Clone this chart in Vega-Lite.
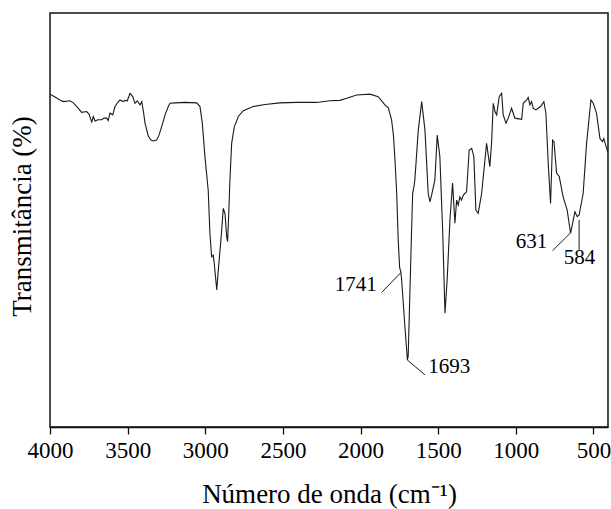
{
  "$schema": "https://vega.github.io/schema/vega-lite/v6.json",
  "width": 558,
  "height": 414,
  "autosize": {"type": "none"},
  "padding": {"left": 50, "top": 13, "right": 3, "bottom": 82},
  "background": "white",
  "config": {
    "view": {"stroke": "#111", "strokeWidth": 1.5},
    "font": "Liberation Serif",
    "axis": {"labelFont": "Liberation Serif", "titleFont": "Liberation Serif"},
    "text": {"font": "Liberation Serif"}
  },
  "datasets": {
    "spectrum": [
      {"w": 4000, "t": 80.4}, {"w": 3968, "t": 79.7}, {"w": 3936, "t": 79.0}, {"w": 3914, "t": 78.6},
      {"w": 3871, "t": 78.8}, {"w": 3850, "t": 78.3}, {"w": 3820, "t": 77.1}, {"w": 3796, "t": 76.0},
      {"w": 3764, "t": 76.2}, {"w": 3749, "t": 75.6}, {"w": 3731, "t": 73.7}, {"w": 3721, "t": 75.0},
      {"w": 3710, "t": 73.9}, {"w": 3691, "t": 74.2}, {"w": 3667, "t": 74.2}, {"w": 3652, "t": 74.6},
      {"w": 3635, "t": 74.6}, {"w": 3625, "t": 74.0}, {"w": 3614, "t": 75.8}, {"w": 3596, "t": 75.4},
      {"w": 3581, "t": 77.4}, {"w": 3562, "t": 78.5}, {"w": 3549, "t": 79.0}, {"w": 3528, "t": 78.6},
      {"w": 3517, "t": 78.9}, {"w": 3502, "t": 78.8}, {"w": 3485, "t": 80.6}, {"w": 3467, "t": 79.8},
      {"w": 3453, "t": 78.2}, {"w": 3438, "t": 78.8}, {"w": 3420, "t": 77.8}, {"w": 3409, "t": 78.6},
      {"w": 3398, "t": 76.1}, {"w": 3388, "t": 73.4}, {"w": 3367, "t": 70.3}, {"w": 3350, "t": 69.3},
      {"w": 3335, "t": 69.1}, {"w": 3313, "t": 69.3}, {"w": 3298, "t": 70.5}, {"w": 3281, "t": 72.5},
      {"w": 3259, "t": 75.4}, {"w": 3238, "t": 77.4}, {"w": 3227, "t": 78.2}, {"w": 3195, "t": 78.3},
      {"w": 3131, "t": 78.4}, {"w": 3055, "t": 78.3}, {"w": 3034, "t": 77.4}, {"w": 3019, "t": 73.4},
      {"w": 3002, "t": 65.3}, {"w": 2981, "t": 57.2}, {"w": 2970, "t": 46.8}, {"w": 2959, "t": 41.1},
      {"w": 2948, "t": 41.5}, {"w": 2942, "t": 39.5}, {"w": 2926, "t": 33.1}, {"w": 2916, "t": 37.9},
      {"w": 2899, "t": 45.2}, {"w": 2884, "t": 52.8}, {"w": 2873, "t": 51.6}, {"w": 2862, "t": 46.0},
      {"w": 2856, "t": 44.8}, {"w": 2847, "t": 53.2}, {"w": 2841, "t": 59.7}, {"w": 2830, "t": 68.5},
      {"w": 2813, "t": 72.5}, {"w": 2787, "t": 75.0}, {"w": 2755, "t": 76.4}, {"w": 2691, "t": 77.4},
      {"w": 2615, "t": 77.9}, {"w": 2519, "t": 78.3}, {"w": 2411, "t": 78.4}, {"w": 2283, "t": 78.4},
      {"w": 2197, "t": 78.8}, {"w": 2132, "t": 78.9}, {"w": 2089, "t": 79.4}, {"w": 2025, "t": 80.2},
      {"w": 1939, "t": 80.4}, {"w": 1886, "t": 79.8}, {"w": 1843, "t": 77.8}, {"w": 1821, "t": 77.1},
      {"w": 1800, "t": 74.2}, {"w": 1788, "t": 70.5}, {"w": 1778, "t": 64.5}, {"w": 1767, "t": 56.5},
      {"w": 1757, "t": 45.0}, {"w": 1748, "t": 38.5}, {"w": 1741, "t": 37.6}, {"w": 1735, "t": 35.5},
      {"w": 1717, "t": 25.8}, {"w": 1698, "t": 16.2}, {"w": 1693, "t": 17.1}, {"w": 1682, "t": 32.4},
      {"w": 1671, "t": 47.6}, {"w": 1664, "t": 56.5}, {"w": 1656, "t": 58.0}, {"w": 1650, "t": 59.7},
      {"w": 1628, "t": 71.7}, {"w": 1606, "t": 78.6}, {"w": 1585, "t": 71.7}, {"w": 1564, "t": 56.4},
      {"w": 1553, "t": 54.4}, {"w": 1542, "t": 56.0}, {"w": 1521, "t": 59.7}, {"w": 1506, "t": 70.5},
      {"w": 1489, "t": 65.3}, {"w": 1471, "t": 47.6}, {"w": 1456, "t": 27.5}, {"w": 1442, "t": 35.5},
      {"w": 1424, "t": 50.0}, {"w": 1407, "t": 58.9}, {"w": 1392, "t": 49.2}, {"w": 1381, "t": 54.8},
      {"w": 1371, "t": 53.6}, {"w": 1360, "t": 55.6}, {"w": 1349, "t": 54.8}, {"w": 1338, "t": 56.0},
      {"w": 1328, "t": 56.4}, {"w": 1317, "t": 56.8}, {"w": 1300, "t": 66.9}, {"w": 1284, "t": 67.3},
      {"w": 1270, "t": 65.3}, {"w": 1257, "t": 52.4}, {"w": 1242, "t": 51.6}, {"w": 1220, "t": 56.4},
      {"w": 1188, "t": 68.5}, {"w": 1167, "t": 62.9}, {"w": 1156, "t": 68.5}, {"w": 1145, "t": 78.2},
      {"w": 1134, "t": 76.2}, {"w": 1123, "t": 75.4}, {"w": 1107, "t": 79.8}, {"w": 1091, "t": 80.6},
      {"w": 1081, "t": 75.4}, {"w": 1063, "t": 73.4}, {"w": 1049, "t": 74.6}, {"w": 1027, "t": 77.0},
      {"w": 1006, "t": 74.6}, {"w": 962, "t": 74.3}, {"w": 952, "t": 78.2}, {"w": 930, "t": 79.0},
      {"w": 920, "t": 79.6}, {"w": 909, "t": 77.8}, {"w": 898, "t": 78.6}, {"w": 888, "t": 77.0},
      {"w": 870, "t": 76.6}, {"w": 856, "t": 77.0}, {"w": 840, "t": 77.4}, {"w": 819, "t": 78.6},
      {"w": 806, "t": 75.8}, {"w": 791, "t": 63.7}, {"w": 776, "t": 54.0}, {"w": 763, "t": 69.3},
      {"w": 754, "t": 68.9}, {"w": 737, "t": 61.3}, {"w": 720, "t": 60.5}, {"w": 695, "t": 55.6},
      {"w": 669, "t": 52.4}, {"w": 647, "t": 46.8}, {"w": 634, "t": 49.2}, {"w": 619, "t": 52.0},
      {"w": 604, "t": 50.8}, {"w": 592, "t": 51.2}, {"w": 566, "t": 56.4}, {"w": 544, "t": 68.5},
      {"w": 516, "t": 79.0}, {"w": 501, "t": 78.2}, {"w": 480, "t": 75.8}, {"w": 458, "t": 69.7},
      {"w": 441, "t": 68.9}, {"w": 433, "t": 69.7}, {"w": 415, "t": 67.3}, {"w": 407, "t": 66.4}
    ],
    "leaders": [
      {"w1": 1864, "t1": 32.5, "w2": 1740, "t2": 37.3},
      {"w1": 1699, "t1": 16.2, "w2": 1585, "t2": 12.6},
      {"w1": 763, "t1": 42.6, "w2": 647, "t2": 46.9},
      {"w1": 592, "t1": 50.0, "w2": 592, "t2": 42.8}
    ],
    "labels": [
      {"w": 2031, "t": 34.4, "label": "1741"},
      {"w": 1429, "t": 14.6, "label": "1693"},
      {"w": 898, "t": 44.6, "label": "631"},
      {"w": 590, "t": 40.8, "label": "584"}
    ]
  },
  "layer": [
    {
      "data": {"name": "spectrum"},
      "mark": {"type": "line", "color": "#1a1a1a", "strokeWidth": 1.1, "clip": true},
      "encoding": {
        "x": {
          "field": "w", "type": "quantitative",
          "scale": {"domain": [4000, 406], "nice": false, "zero": false},
          "axis": {
            "title": "Número de onda (cm⁻¹)",
            "values": [4000, 3750, 3500, 3250, 3000, 2750, 2500, 2250, 2000, 1750, 1500, 1250, 1000, 750, 500],
            "format": "d",
            "labelExpr": "datum.value % 500 === 0 ? datum.label : ''",
            "labelOverlap": false,
            "labelFlush": false,
            "labelFont": "Liberation Serif",
            "labelFontSize": 23,
            "labelColor": "#000",
            "labelBaseline": "alphabetic",
            "labelPadding": 23,
            "tickSize": {"condition": {"test": "datum.value % 500 === 0", "value": 7}, "value": 4},
            "tickColor": "#111",
            "tickWidth": 1.3,
            "domainColor": "#111",
            "domainWidth": 1.5,
            "grid": false,
            "titleFont": "Liberation Serif",
            "titleFontSize": 27,
            "titleFontWeight": "normal",
            "titleColor": "#000",
            "titleBaseline": "alphabetic",
            "titleY": 75,
            "encode": {
              "labels": {"update": {"font": {"value": "Liberation Serif"}, "fontSize": {"value": 23}}}
            }
          }
        },
        "y": {
          "field": "t", "type": "quantitative",
          "scale": {"domain": [0, 100], "nice": false, "zero": false},
          "axis": {
            "title": "Transmitância (%)",
            "labels": false,
            "ticks": false,
            "domain": false,
            "grid": false,
            "titleFont": "Liberation Serif",
            "titleFontSize": 27,
            "titleFontWeight": "normal",
            "titleColor": "#000",
            "titleAngle": -90,
            "titleBaseline": "middle",
            "titleAlign": "center",
            "titleX": -28,
            "titleY": 203
          }
        }
      }
    },
    {
      "data": {"name": "leaders"},
      "mark": {"type": "rule", "color": "#1a1a1a", "strokeWidth": 1},
      "encoding": {
        "x": {"field": "w1", "type": "quantitative"},
        "y": {"field": "t1", "type": "quantitative"},
        "x2": {"field": "w2"},
        "y2": {"field": "t2"}
      }
    },
    {
      "data": {"name": "labels"},
      "mark": {"type": "text", "font": "Liberation Serif", "fontSize": 21, "color": "#000", "align": "center", "baseline": "middle"},
      "encoding": {
        "x": {"field": "w", "type": "quantitative"},
        "y": {"field": "t", "type": "quantitative"},
        "text": {"field": "label"}
      }
    }
  ]
}
